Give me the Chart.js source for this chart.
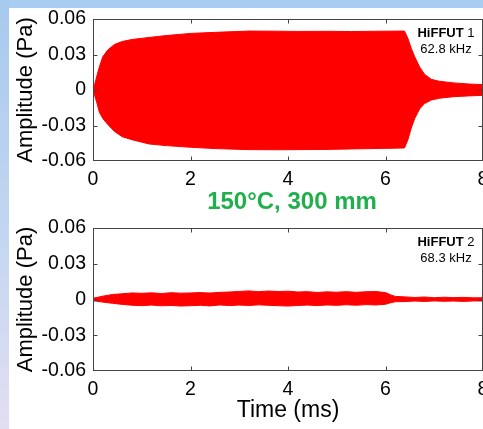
<!DOCTYPE html>
<html>
<head>
<meta charset="utf-8">
<script src="https://cdn.jsdelivr.net/npm/chart.js@4.4.1/dist/chart.umd.min.js"></script>
<style>
  html, body { margin: 0; padding: 0; width: 483px; height: 429px; overflow: hidden; background: #fff; }
  #topBand  { position: absolute; left: 0; top: 0; width: 483px; height: 8px; background: #a9cdf1; }
  #leftBand { position: absolute; left: 0; top: 0; width: 9px; height: 429px;
              background: linear-gradient(#a7c9ee, #c3d6f1 55%, #e2def2); }
  canvas { position: absolute; left: 0; }
  #c1 { top: 0; }
  #c2 { top: 200px; }
</style>
</head>
<body>
<div id="topBand"></div>
<div id="leftBand"></div>
<canvas id="c1" width="530" height="215"></canvas>
<canvas id="c2" width="530" height="229"></canvas>
<script>
// ── data (envelopes of the pressure signal) ──
// top panel: HiFFUT 1, 62.8 kHz
const tTop   = [0, 0.03, 0.08, 0.13, 0.2, 0.3, 0.44, 0.6, 0.8, 1.15, 1.5, 2.0, 2.5, 3.2, 3.8,
                4.2, 4.8, 5.3, 5.9, 6.39, 6.46, 6.53, 6.6, 6.7, 6.8, 6.94, 7.1, 7.4, 7.7, 8.0];
const upTop  = [0, 0.004, 0.012, 0.0195, 0.028, 0.0337, 0.0385, 0.041, 0.0427, 0.0444, 0.046,
                0.0478, 0.0487, 0.0498, 0.0497, 0.0495, 0.0496, 0.0494, 0.0497, 0.0498, 0.0436,
                0.035, 0.028, 0.0195, 0.0133, 0.009, 0.0074, 0.006, 0.0051, 0.0045];
const lowTop = [0, -0.004, -0.011, -0.0187, -0.024, -0.029, -0.035, -0.0395, -0.042, -0.0456,
                -0.047, -0.0484, -0.0495, -0.0504, -0.0505, -0.0504, -0.0502, -0.0498, -0.0494,
                -0.049, -0.042, -0.032, -0.024, -0.016, -0.0115, -0.0085, -0.007, -0.0056,
                -0.005, -0.0045];

// bottom panel: HiFFUT 2, 68.3 kHz
const tBot   = [0, 0.2, 0.4, 0.6, 0.8, 1.0, 1.2, 1.4, 1.6, 1.8, 2.0, 2.2, 2.4, 2.6, 2.8, 3.0,
                3.2, 3.4, 3.6, 3.8, 4.0, 4.2, 4.4, 4.6, 4.8, 5.0, 5.2, 5.4, 5.6, 5.8, 6.0, 6.1,
                6.2, 6.4, 6.6, 6.8, 7.0, 7.2, 7.4, 7.6, 7.8, 8.0];
const upBot  = [0.001, 0.0028, 0.0042, 0.0048, 0.0055, 0.0052, 0.0056, 0.005, 0.0057, 0.0053,
                0.0055, 0.0058, 0.0054, 0.006, 0.0063, 0.0068, 0.0072, 0.0066, 0.0071, 0.0067,
                0.007, 0.0063, 0.0066, 0.0059, 0.0064, 0.0061, 0.0066, 0.006, 0.0065, 0.0067,
                0.0058, 0.004, 0.0026, 0.0022, 0.0017, 0.0021, 0.0015, 0.0019, 0.0016, 0.0018,
                0.0014, 0.0015];
const lowBot = [-0.001, -0.0022, -0.0032, -0.0041, -0.0048, -0.0052, -0.0047, -0.0053, -0.005,
                -0.0055, -0.0052, -0.0049, -0.0054, -0.0046, -0.0051, -0.0047, -0.005, -0.0045,
                -0.0049, -0.0052, -0.0055, -0.005, -0.0047, -0.0051, -0.0046, -0.0049, -0.0044,
                -0.0048, -0.0043, -0.0046, -0.004, -0.0028, -0.0019, -0.0017, -0.0013, -0.0016,
                -0.0012, -0.0015, -0.0013, -0.0016, -0.0012, -0.0013];

// axes
const xTicks      = [0, 2, 4, 6, 8];
const xTickLabels = ['0', '2', '4', '6', '8'];
const yTicks      = [-0.06, -0.03, 0, 0.03, 0.06];
const yTickLabels = ['-0.06', '-0.03', '0', '0.03', '0.06'];

// labels
const panelNames = ['HiFFUT', 'HiFFUT'];
const panelNums  = [' 1', ' 2'];
const panelFreqs = ['62.8 kHz', '68.3 kHz'];
const midTitle   = '150°C, 300 mm';
const yTitle     = 'Amplitude (Pa)';
const xTitle     = 'Time (ms)';

const FONT = "'Liberation Sans', Arial, sans-serif";
Chart.defaults.font.family = FONT;
Chart.defaults.color = '#000';

// ── frame box with inward tick marks + panel label ──
const boxPlugin = {
  id: 'box',
  afterDraw(chart, args, opts) {
    const ctx = chart.ctx, a = chart.chartArea;
    const xs = chart.scales.x, ys = chart.scales.y;
    const L = Math.round(a.left) + 0.5, R = Math.round(a.right) - 0.5;
    const T = Math.round(a.top) + 0.5, B = Math.round(a.bottom) - 0.5;
    ctx.save();
    ctx.strokeStyle = '#444';
    ctx.lineWidth = 1;
    ctx.strokeRect(L, T, R - L, B - T);
    ctx.beginPath();
    xTicks.slice(1, -1).forEach(v => {
      const x = Math.round(xs.getPixelForValue(v)) + 0.5;
      ctx.moveTo(x, T); ctx.lineTo(x, T + 4);
      ctx.moveTo(x, B); ctx.lineTo(x, B - 4);
    });
    yTicks.slice(1, -1).forEach(v => {
      const y = Math.round(ys.getPixelForValue(v)) + 0.5;
      ctx.moveTo(L, y); ctx.lineTo(L + 4, y);
      ctx.moveTo(R, y); ctx.lineTo(R - 4, y);
    });
    ctx.stroke();

    // "HiFFUT n" / "xx.x kHz"
    const i = opts.panel;
    const cx = a.right - 37;
    ctx.fillStyle = '#000';
    ctx.textBaseline = 'alphabetic';
    ctx.font = 'bold 13px ' + FONT;
    const w1 = ctx.measureText(panelNames[i]).width;
    ctx.font = '13px ' + FONT;
    const w2 = ctx.measureText(panelNums[i]).width;
    let x0 = cx - (w1 + w2) / 2;
    ctx.textAlign = 'left';
    ctx.font = 'bold 13px ' + FONT;
    ctx.fillText(panelNames[i], x0, a.top + 17.5);
    ctx.font = '13px ' + FONT;
    ctx.fillText(panelNums[i], x0 + w1, a.top + 17.5);
    ctx.textAlign = 'center';
    ctx.fillText(panelFreqs[i], cx, a.top + 33.5);

    // green caption between the panels (drawn by the top chart)
    if (opts.caption) {
      ctx.fillStyle = '#1fb04c';
      ctx.font = 'bold 24px ' + FONT;
      ctx.fillText(midTitle, 292, 209);
    }
    ctx.restore();
  }
};

function makePanel(id, times, upper, lower, panel, pad, axisHeight, withXTitle) {
  const up  = times.map((t, k) => ({ x: t, y: upper[k] }));
  const low = times.map((t, k) => ({ x: t, y: lower[k] }));
  return new Chart(document.getElementById(id), {
    type: 'line',
    data: {
      datasets: [
        { data: up,  borderColor: '#ff0000', backgroundColor: '#ff0000', borderWidth: 1,
          pointRadius: 0, fill: '+1', tension: 0 },
        { data: low, borderColor: '#ff0000', backgroundColor: '#ff0000', borderWidth: 1,
          pointRadius: 0, fill: false, tension: 0 }
      ]
    },
    options: {
      responsive: false,
      animation: false,
      devicePixelRatio: 1,
      layout: { padding: pad },
      plugins: {
        legend: { display: false },
        tooltip: { enabled: false },
        box: { panel: panel, caption: panel === 0 }
      },
      scales: {
        x: {
          type: 'linear', min: 0, max: 8,
          afterBuildTicks: s => { s.ticks = xTicks.map(v => ({ value: v })); },
          afterFit: s => { s.height = axisHeight; },
          grid: { display: false, drawTicks: false },
          border: { display: false },
          ticks: { padding: 7, font: { size: 19.5 }, maxRotation: 0,
                   callback: (v, k) => xTickLabels[k] },
          title: { display: withXTitle, text: xTitle, font: { size: 23 },
                   padding: { top: 0, bottom: 5 } }
        },
        y: {
          type: 'linear', min: -0.06, max: 0.06,
          afterBuildTicks: s => { s.ticks = yTicks.map(v => ({ value: v })); },
          afterFit: s => { s.width = 80; },
          grid: { display: false, drawTicks: false },
          border: { display: false },
          ticks: { padding: 7, font: { size: 19.5 },
                   callback: (v, k) => yTickLabels[k] },
          title: { display: true, text: yTitle, font: { size: 22 },
                   padding: { top: 0, bottom: 0 } }
        }
      }
    },
    plugins: [boxPlugin]
  });
}

// top: plot 93..483 x 19..161 ; bottom: plot 93..483 x 228..371
makePanel('c1', tTop, upTop, lowTop, 0, { left: 13, top: 19, right: 47, bottom: 0 }, 54, false);
makePanel('c2', tBot, upBot, lowBot, 1, { left: 13, top: 28, right: 47, bottom: 0 }, 58, true);
</script>
</body>
</html>
